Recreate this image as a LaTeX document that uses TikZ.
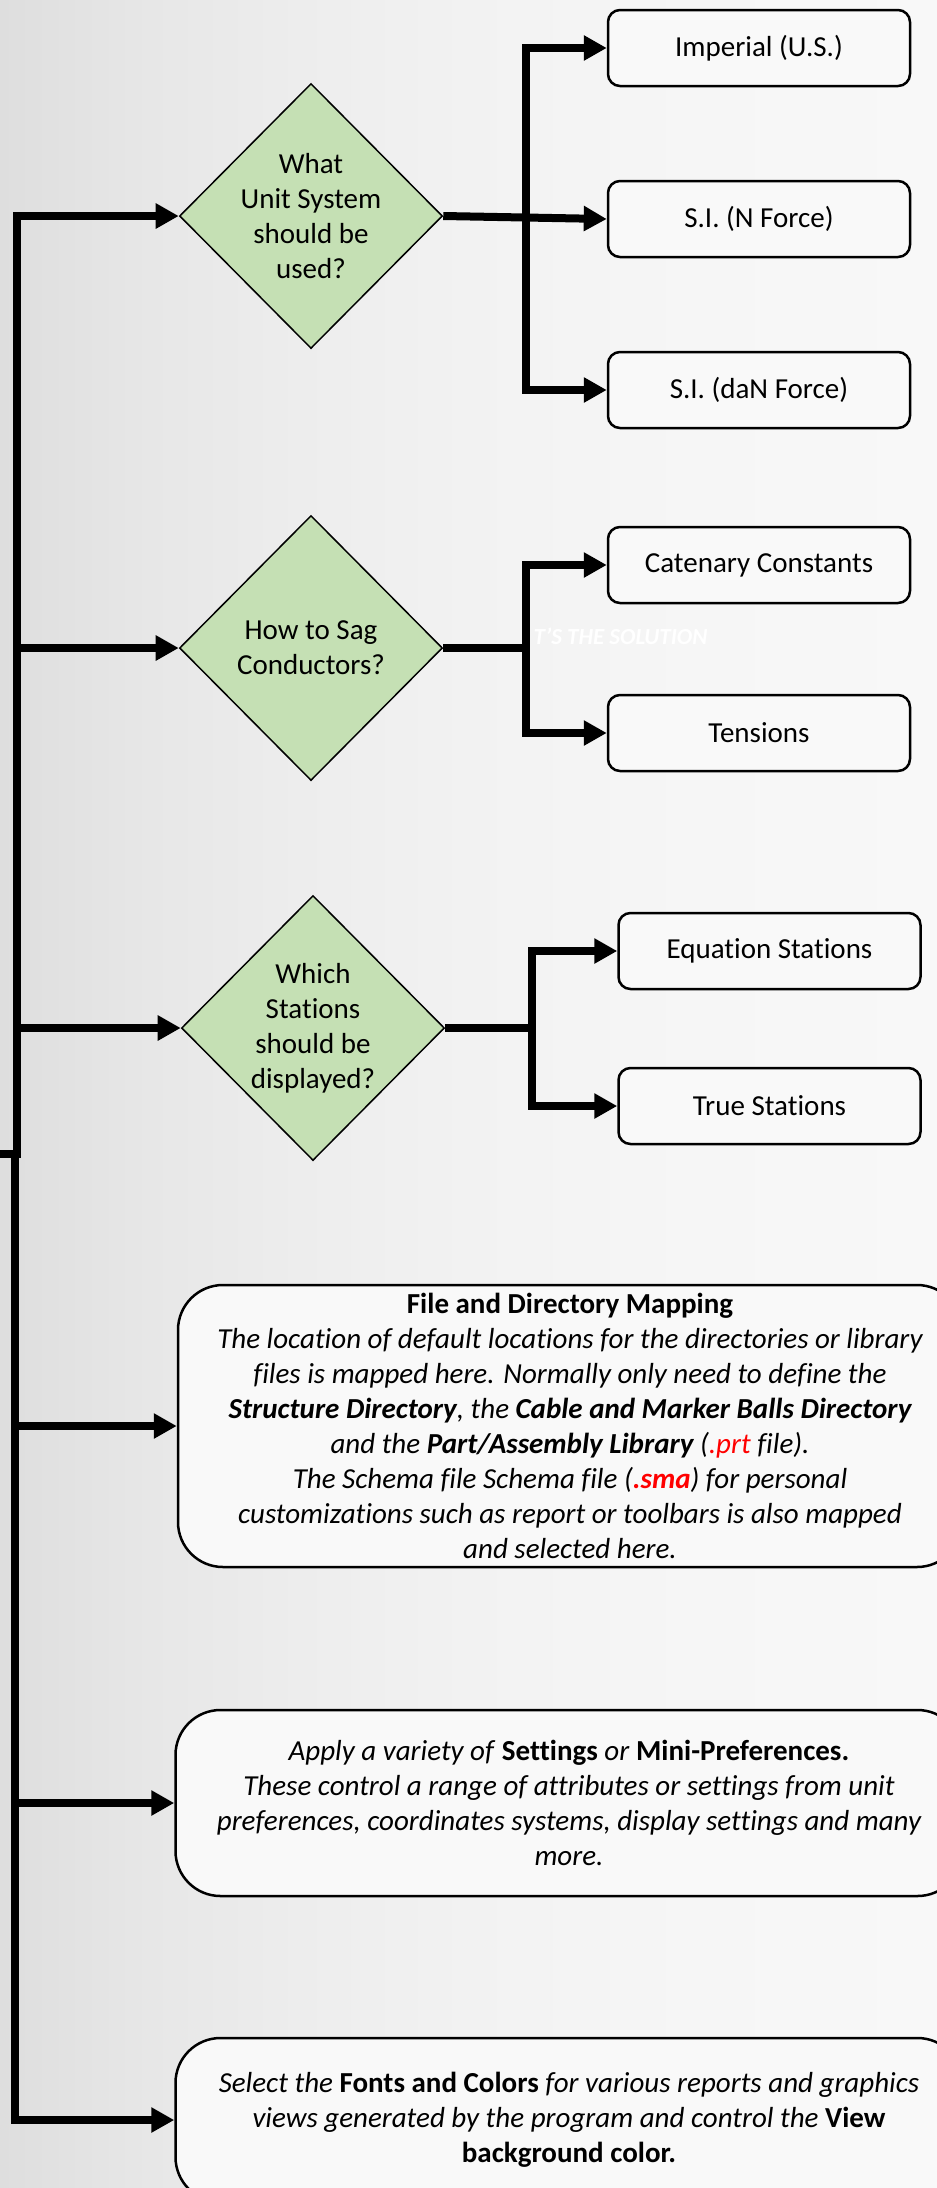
\documentclass[tikz,border=0pt]{standalone}
\usepackage{fontspec}
\setmainfont{Carlito}[Ligatures={NoCommon}]
\usetikzlibrary{arrows.meta,shapes.geometric}

\definecolor{leafgreen}{RGB}{197,224,180}
\definecolor{boxfill}{RGB}{249,249,249}
\definecolor{bgA}{RGB}{222,222,222}
\definecolor{bgB}{RGB}{231,231,231}
\definecolor{bgC}{RGB}{237,237,237}
\definecolor{bgD}{RGB}{242,242,242}
\definecolor{bgE}{RGB}{246,246,246}
\definecolor{bgF}{RGB}{248,248,248}
\pgfdeclarehorizontalshading{backdrop}{100bp}{color(0bp)=(bgA); color(25bp)=(bgA);
  color(33bp)=(bgB); color(41bp)=(bgC); color(50bp)=(bgD); color(62bp)=(bgE);
  color(75bp)=(bgF); color(100bp)=(bgF)}

\begin{document}
\begin{tikzpicture}[x=1pt,y=-1pt,node distance=171pt,
    font=\fontsize{29}{35}\selectfont,
    decision/.style={diamond,draw,line width=1.5pt,fill=leafgreen,
      minimum width=263pt,minimum height=265pt,inner sep=-14pt,align=center},
    choice/.style={rectangle,rounded corners=12pt,draw,line width=2.5pt,
      fill=boxfill,minimum width=302pt,minimum height=76pt},
    note/.style={rectangle,rounded corners=45pt,draw,line width=2.5pt,
      fill=boxfill,align=center,inner sep=2pt,
      font=\fontsize{29}{35}\selectfont\itshape},
    flow/.style={line width=8pt,-{Triangle[length=23pt,width=24pt]}},
    link/.style={line width=8pt}]

  \useasboundingbox (0,0) rectangle (937,2188);
  \clip (0,0) rectangle (937,2188);
  \shade[shading=backdrop] (0,0) rectangle (937,2188);

  \node[decision] (units)    at (311,216)  {What\\Unit System\\should be\\used?};
  \node[decision] (sag)      at (311,648)  {How to Sag\\Conductors?};
  \node[decision] (stations) at (313,1028) {Which\\Stations\\should be\\displayed?};

  \node[choice] (imperial) at (759,48)             {Imperial (U.S.)};
  \node[choice] (si-n)     [below of=imperial]     {S.I. (N Force)};
  \node[choice] (si-dan)   [below of=si-n]         {S.I. (daN Force)};

  \node[choice] (catenary) at (759,565)            {Catenary Constants};
  \node[choice] (tensions) [below of=catenary,node distance=168pt] {Tensions};

  \node[choice] (equation) at (769.5,951)          {Equation Stations};
  \node[choice] (true)     [below of=equation,node distance=155pt] {True Stations};

  \node[text=white,anchor=west,font=\fontsize{23}{28}\selectfont\bfseries\itshape]
    (watermark) at (530,636) {T’S THE SOLUTION};

  \node[note,minimum width=784pt,minimum height=282pt] (mapping) at (570,1426)
    {\textup{\textbf{File and Directory Mapping}}\\
     The location of default locations for the directories or library\\
     files is mapped here. Normally only need to define the\\
     \textbf{Structure Directory}, the \textbf{Cable and Marker Balls Directory}\\
     and the \textbf{Part/Assembly Library} (\textcolor{red}{.prt} file).\\
     The Schema file Schema file (\textcolor{red}{\textbf{.sma}}) for personal\\
     customizations such as report or toolbars is also mapped\\
     and selected here.};
  \node[note,minimum width=787pt,minimum height=186pt] (settings) at (569,1803)
    {Apply a variety of \textup{\textbf{Settings}} or \textup{\textbf{Mini-Preferences.}}\\
     These control a range of attributes or settings from unit\\
     preferences, coordinates systems, display settings and many\\
     more.};
  \node[note,minimum width=787pt,minimum height=164pt] (fonts) at (569,2120)
    {Select the \textup{\textbf{Fonts and Colors}} for various reports and graphics\\
     views generated by the program and control the \textup{\textbf{View}}\\
     \textup{\textbf{background color.}}};

  % trunk on the left
  \coordinate (feed)      at (0,1154);
  \coordinate (trunk)     at (16.5,1154);
  \coordinate (trunk-low) at (14.5,1150);

  \draw[flow] (feed) -- (trunk) |- (units);
  \draw[flow] (trunk |- sag) -- (sag);
  \draw[flow] (trunk |- stations) -- (stations);

  \draw[flow] (trunk-low) |- (fonts);
  \draw[flow] (trunk-low |- mapping) -- (mapping);
  \draw[flow] (trunk-low |- settings) -- (settings);

  % forks to the options
  \coordinate (units-fork)    at (526,216);
  \coordinate (sag-fork)      at (526,648);
  \coordinate (stations-fork) at (532,1028);

  \draw[flow] (units.east) -- (si-n.west);
  \draw[flow] (units-fork) |- (imperial);
  \draw[flow] (units-fork) |- (si-dan);

  \draw[link] (sag.east) -- (sag-fork);
  \draw[flow] (sag-fork) |- (catenary);
  \draw[flow] (sag-fork) |- (tensions);

  \draw[link] (stations.east) -- (stations-fork);
  \draw[flow] (stations-fork) |- (equation);
  \draw[flow] (stations-fork) |- (true);
\end{tikzpicture}
\end{document}
